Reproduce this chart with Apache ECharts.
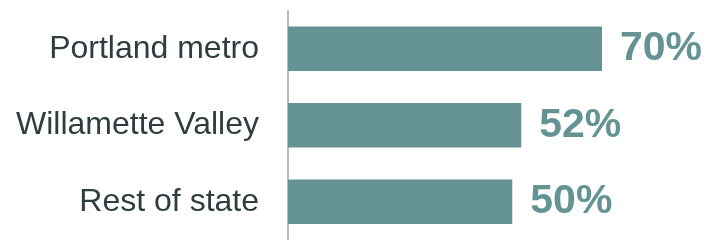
<!DOCTYPE html>
<html>
<head>
<meta charset="utf-8">
<script src="https://cdn.jsdelivr.net/npm/echarts@6/dist/echarts.min.js"></script>
<style>
  html, body { margin: 0; padding: 0; background: #fff; }
  #chart { width: 707px; height: 240px; }
</style>
</head>
<body>
<div id="chart"></div>
<script>
  // regions, top to bottom
  var regions = ['Portland metro', 'Willamette Valley', 'Rest of state'];
  var shares = [70, 52, 50];

  var myChart = echarts.init(document.getElementById('chart'));
  myChart.setOption({
    animation: false,
    grid: { left: 288, right: 105, top: 10.5, bottom: -6 },
    xAxis: {
      type: 'value',
      min: 0,
      max: 70,
      show: false
    },
    yAxis: {
      type: 'category',
      inverse: true,
      data: regions,
      axisLine: { show: true, lineStyle: { color: '#b8b8b8', width: 2 } },
      axisTick: { show: false },
      axisLabel: {
        margin: 29,
        padding: [3, 0, 0, 0],
        fontFamily: 'Liberation Sans',
        fontSize: 32,
        color: '#2f3d40'
      }
    },
    series: [{
      type: 'bar',
      data: shares,
      barWidth: 44.5,
      itemStyle: { color: '#669494' },
      label: {
        show: true,
        position: 'right',
        distance: 18,
        formatter: '{c}%',
        fontFamily: 'Liberation Sans',
        fontWeight: 'bold',
        fontSize: 41,
        color: '#649393'
      }
    }]
  });
</script>
</body>
</html>
